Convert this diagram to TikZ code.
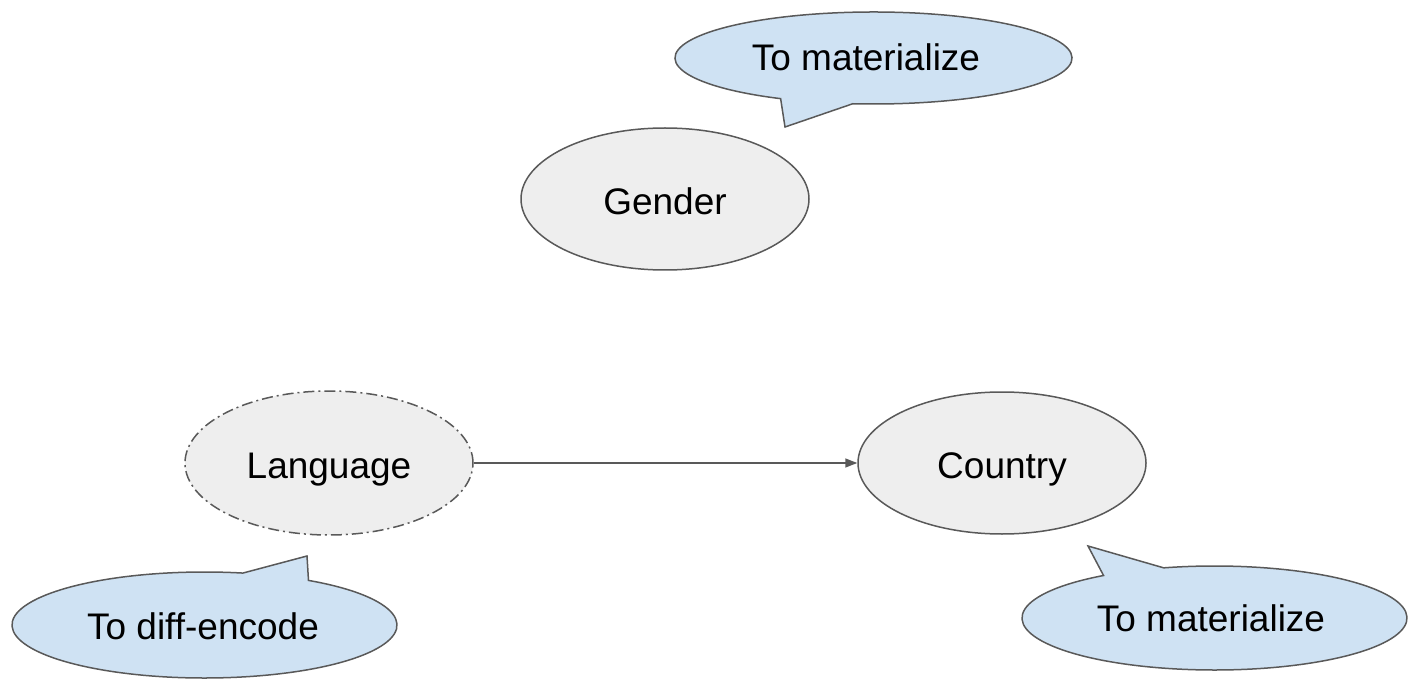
\documentclass[tikz,border=0pt]{standalone}
\usepackage{fontspec}
\setmainfont{Liberation Sans}
\usetikzlibrary{shapes.geometric,arrows.meta,calc}
\definecolor{nodefill}{HTML}{EEEEEE}
\definecolor{edgegray}{HTML}{595959}
\definecolor{callfill}{HTML}{CFE2F3}
\begin{document}
\begin{tikzpicture}[x=1pt,y=1pt,
  every node/.style={font=\fontsize{37}{44}\selectfont},
  entity/.style={ellipse,draw=edgegray,fill=nodefill,line width=1.5pt,minimum width=288pt,minimum height=142pt,inner sep=0pt,text height=31pt,text depth=0pt},
  callout/.style={draw=edgegray,fill=callfill,line width=1.5pt,line join=miter},
  label/.style={inner sep=0pt},
  dashdot/.style={dash pattern=on 11pt off 4pt on 2pt off 4pt},
  link/.style={draw=edgegray,line width=1.5pt,-{Triangle[length=12pt,width=9pt]}}]
\useasboundingbox (0,0) rectangle (1421,689);

% entities
\node[entity] (gender) at (665,490) {Gender};
\node[entity,dashdot,minimum height=144pt] (language) at (329,226) {Language};
\node[entity] (country) at (1002,226) {Country};

% connector
\draw[link] (language.east) -- (country.west);

% top callout
\coordinate (c1) at (873.5,631);
\coordinate (t1) at (785,562);
\draw[callout] ($(c1)+(-117.9:198.5pt and 46pt)$) arc[start angle=-117.9,end angle=-456,x radius=198.5pt,y radius=46pt] -- (t1) -- cycle;
\node[label] (m1) at (866,632) {To materialize};

% bottom-left callout
\coordinate (c2) at (204.5,64);
\coordinate (t2) at (307,133);
\draw[callout] ($(c2)+(57.3:192.5pt and 53pt)$) arc[start angle=57.3,end angle=-281.5,x radius=192.5pt,y radius=53pt] -- (t2) -- cycle;
\node[label] (m2) at (203,63) {To diff-encode};

% bottom-right callout
\coordinate (c3) at (1214.5,71);
\coordinate (t3) at (1088,143);
\draw[callout] ($(c3)+(125.2:192.5pt and 52pt)$) arc[start angle=125.2,end angle=465.3,x radius=192.5pt,y radius=52pt] -- (t3) -- cycle;
\node[label] (m3) at (1211,71) {To materialize};
\end{tikzpicture}
\end{document}
